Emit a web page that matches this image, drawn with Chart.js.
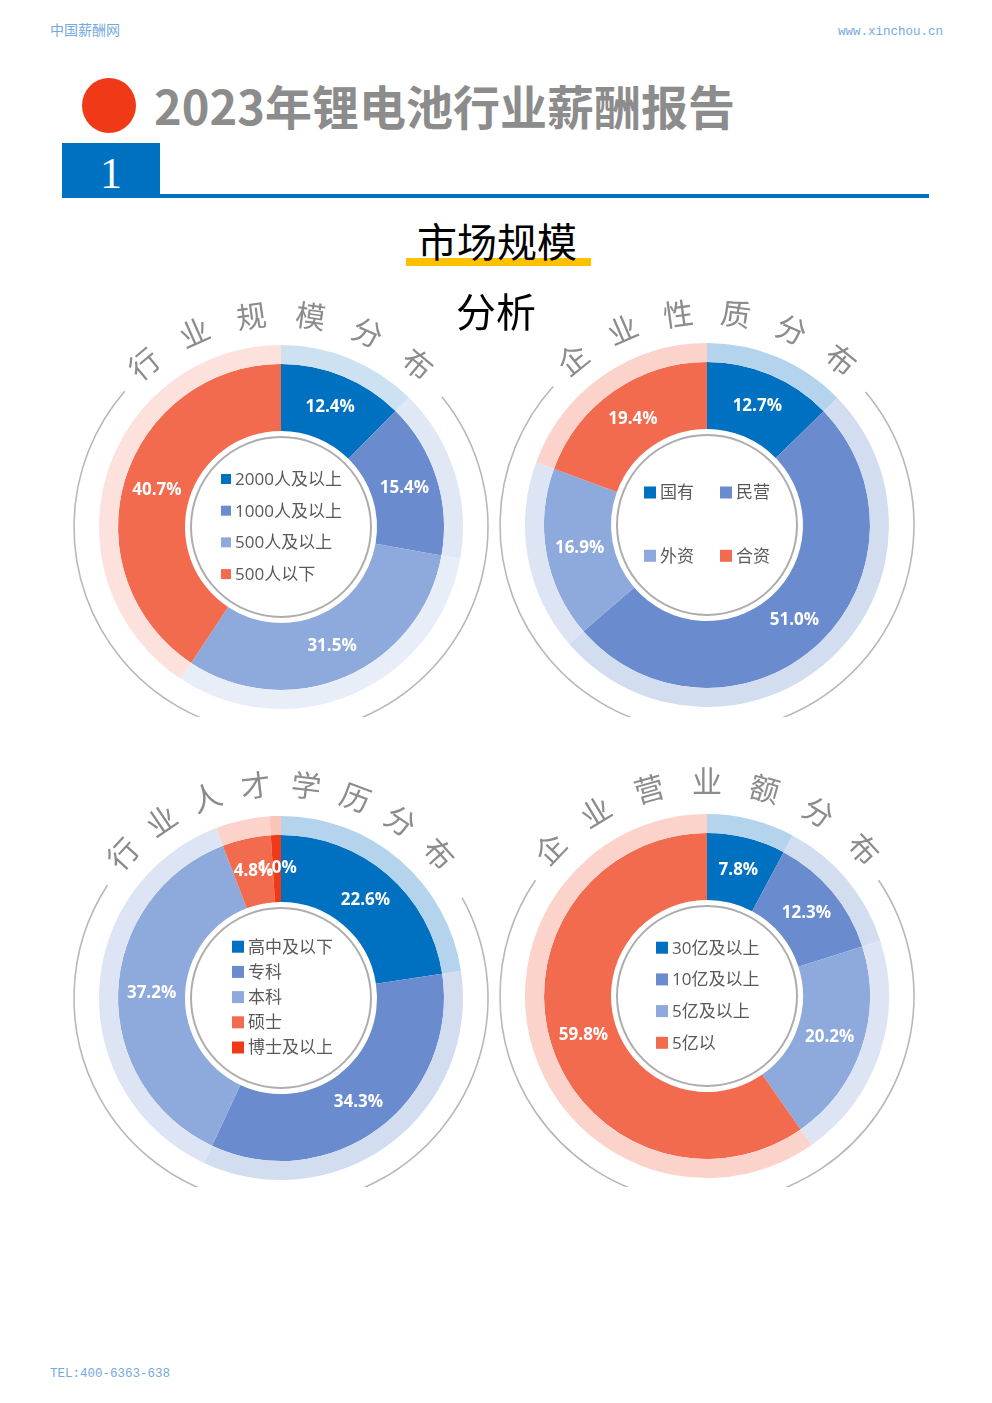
<!DOCTYPE html>
<html lang="zh-CN">
<head>
<meta charset="utf-8">
<title>2023年锂电池行业薪酬报告</title>
<script src="https://cdn.jsdelivr.net/npm/chart.js@4.4.1/dist/chart.umd.min.js"></script>
<style>
  body { margin: 0; background: #fff; font-family: "Noto Sans CJK SC", sans-serif; }
  #page { position: relative; width: 992px; height: 1403px; overflow: hidden; }
  .abs { position: absolute; white-space: nowrap; line-height: 1; }
  .ring { position: absolute; width: 470px; overflow: hidden; }
  .mono { font-family: "Liberation Mono", monospace; color: #74aadf; font-size: 12.5px; }
</style>
</head>
<body>
<div id="page">
  <div class="abs" style="left:50px; top:22px; font-size:14px; color:#74aadf;">中国薪酬网</div>
  <div class="abs mono" style="right:49px; top:26px;">www.xinchou.cn</div>

  <div class="abs" style="left:82px; top:78px; width:54px; height:55px; border-radius:50%; background:#f03a17;"></div>
  <div class="abs" style="left:154px; top:81px; font-size:47px; font-weight:bold; color:#8c8c8c;">2023年锂电池行业薪酬报告</div>

  <div class="abs" style="left:62px; top:143px; width:98px; height:54px; background:#0070c0;"></div>
  <div class="abs" style="left:62px; top:194px; width:867px; height:4px; background:#0070c0;"></div>
  <div class="abs" style="left:62px; top:152px; width:98px; text-align:center; font-family:'Liberation Serif',serif; font-size:44px; color:#fff;">1</div>

  <div class="abs" style="left:406px; top:258px; width:185px; height:8px; background:#ffc000;"></div>
  <div class="abs" style="left:397px; top:220px; width:200px; text-align:center; font-size:40px; color:#000; z-index:5;">市场规模</div>
  <div class="abs" style="left:396px; top:290px; width:200px; text-align:center; font-size:40px; color:#000; z-index:5;">分析</div>

  <div class="ring" style="left:46px; top:276.5px; height:440.5px;"><canvas id="c1" width="470" height="500"></canvas></div>
  <div class="ring" style="left:472px; top:274.5px; height:442.5px;"><canvas id="c2" width="470" height="500"></canvas></div>
  <div class="ring" style="left:46px; top:748px; height:439px;"><canvas id="c3" width="470" height="500"></canvas></div>
  <div class="ring" style="left:472px; top:745.5px; height:441.5px;"><canvas id="c4" width="470" height="500"></canvas></div>

  <div class="abs mono" style="left:50px; top:1368px;">TEL:400-6363-638</div>
</div>

<script>
// 数据
const sizeTitle = '行业规模分布';
const sizeLabels = ['2000人及以上', '1000人及以上', '500人及以上', '500人以下'];
const sizeValues = [12.4, 15.4, 31.5, 40.7];

const typeTitle = '企业性质分布';
const typeLabels = ['国有', '民营', '外资', '合资'];
const typeValues = [12.7, 51.0, 16.9, 19.4];

const eduTitle = '行业人才学历分布';
const eduLabels = ['高中及以下', '专科', '本科', '硕士', '博士及以上'];
const eduValues = [22.6, 34.3, 37.2, 4.8, 1.0];

const revTitle = '企业营业额分布';
const revLabels = ['30亿及以上', '10亿及以上', '5亿及以上', '5亿以'];
const revValues = [7.8, 12.3, 20.2, 59.8];

// 颜色
const mainColors = ['#0070c0', '#6a8cce', '#8ea9db', '#f26b4f', '#ee3a16'];

function tint(hex, a) {
    const n = parseInt(hex.slice(1), 16);
    const mix = v => Math.round(v * a + 255 * (1 - a));
    return `rgb(${mix(n >> 16)}, ${mix((n >> 8) & 255)}, ${mix(n & 255)})`;
}

const rad = d => d * Math.PI / 180;

// 圆环装饰：弧形标题、外圈灰线、内圈灰线、百分比、中间图例
const ringDeco = {
    id: 'ringDeco',
    beforeDatasetsDraw(chart, args, o) {
        const ctx = chart.ctx;
        const cx = (chart.chartArea.left + chart.chartArea.right) / 2;
        const cy = (chart.chartArea.top + chart.chartArea.bottom) / 2;
        ctx.save();
        ctx.strokeStyle = '#b8b8b8';
        ctx.lineWidth = 1.6;
        ctx.beginPath();
        ctx.arc(cx, cy, 207, rad(o.arc[0]), rad(o.arc[1]));
        ctx.stroke();
        ctx.strokeStyle = '#adadad';
        ctx.lineWidth = 2;
        ctx.beginPath();
        ctx.arc(cx, cy, 90, 0, Math.PI * 2);
        ctx.stroke();

        // 弧形标题
        const chars = Array.from(o.title);
        ctx.font = '30px "Noto Sans CJK SC"';
        ctx.fillStyle = '#8c8c8c';
        ctx.textAlign = 'center';
        ctx.textBaseline = 'middle';
        chars.forEach((c, i) => {
            const a = rad(-90 + (i - (chars.length - 1) / 2) * o.step);
            ctx.save();
            ctx.translate(cx + o.tr * Math.cos(a), cy + o.tr * Math.sin(a));
            ctx.rotate(a + Math.PI / 2);
            ctx.fillText(c, 0, 0);
            ctx.restore();
        });
        ctx.restore();
    },
    afterDatasetsDraw(chart, args, o) {
        const ctx = chart.ctx;
        const cx = (chart.chartArea.left + chart.chartArea.right) / 2;
        const cy = (chart.chartArea.top + chart.chartArea.bottom) / 2;
        const ds = chart.data.datasets[1];
        ctx.save();
        ctx.font = 'bold 17px "Open Sans"';
        ctx.fillStyle = '#fff';
        ctx.textAlign = 'center';
        ctx.textBaseline = 'middle';
        chart.getDatasetMeta(1).data.forEach((arc, i) => {
            const p = arc.tooltipPosition();
            ctx.fillText(ds.data[i].toFixed(1) + '%', p.x, p.y);
        });

        // 图例
        const lg = o.legend;
        ctx.font = '17px "Open Sans", "Noto Sans CJK SC"';
        ctx.textAlign = 'left';
        chart.data.labels.forEach((label, i) => {
            const col = i % lg.cols;
            const row = Math.floor(i / lg.cols);
            const x = cx + lg.x + col * lg.colW;
            const y = cy + lg.y + row * lg.rowH;
            ctx.fillStyle = ds.backgroundColor[i];
            ctx.fillRect(x, y - lg.box / 2, lg.box, lg.box);
            ctx.fillStyle = '#595959';
            ctx.fillText(label, x + lg.box + 4, y + 1);
        });
        ctx.restore();
    }
};

function makeRing(id, labels, values, alpha, deco) {
    const colors = mainColors.slice(0, values.length);
    return new Chart(document.getElementById(id), {
        type: 'doughnut',
        data: {
            labels: labels,
            datasets: [
                { data: values, backgroundColor: colors.map(c => tint(c, alpha)), weight: 19, borderWidth: 0 },
                { data: values, backgroundColor: colors, weight: 67, borderWidth: 0 }
            ]
        },
        options: {
            responsive: false,
            animation: false,
            radius: 182,
            cutout: (96 / 182 * 100) + '%',
            layout: { padding: 0 },
            plugins: {
                legend: { display: false },
                tooltip: { enabled: false },
                ringDeco: deco
            }
        },
        plugins: [ringDeco]
    });
}

makeRing('c1', sizeLabels, sizeValues, 0.2, {
    title: sizeTitle, step: 16, tr: 213, arc: [-39, 221],
    legend: { cols: 1, x: -60, y: -48, colW: 0, rowH: 31.7, box: 10 }
});
makeRing('c2', typeLabels, typeValues, 0.3, {
    title: typeTitle, step: 15.6, tr: 213, arc: [-40, 222],
    legend: { cols: 2, x: -63, y: -32.5, colW: 76, rowH: 63.3, box: 12 }
});
makeRing('c3', eduLabels, eduValues, 0.3, {
    title: eduTitle, step: 13.6, tr: 214, arc: [-29, 213],
    legend: { cols: 1, x: -49, y: -51.3, colW: 0, rowH: 25.2, box: 12 }
});
makeRing('c4', revLabels, revValues, 0.3, {
    title: revTitle, step: 15.6, tr: 215, arc: [-34, 214],
    legend: { cols: 1, x: -51, y: -48.3, colW: 0, rowH: 31.7, box: 12 }
});
</script>
</body>
</html>
